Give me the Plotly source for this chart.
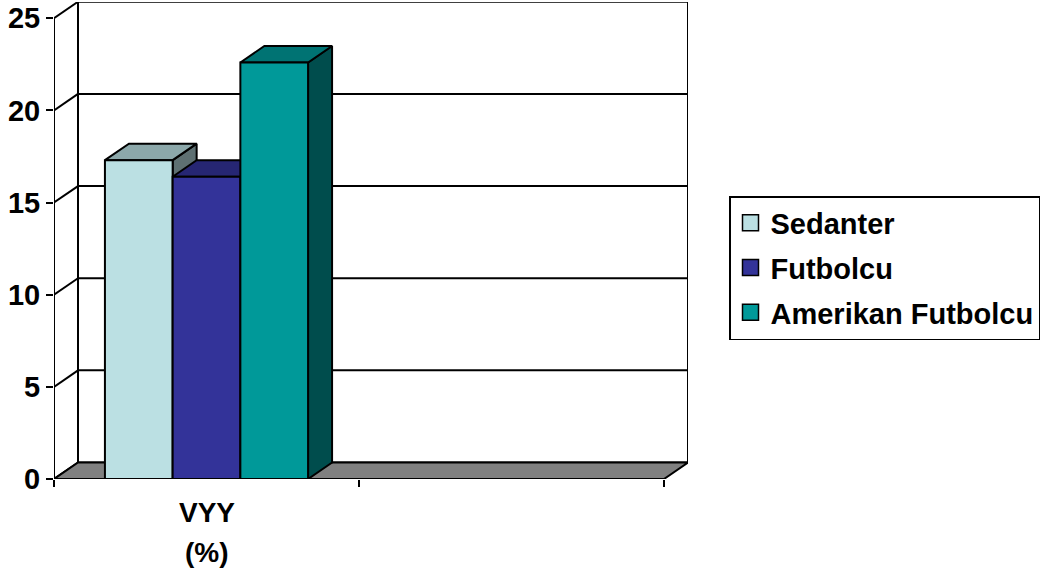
import plotly.graph_objects as go

# ---- data ----
categories = ["VYY", "(%)"]
series_names = ["Sedanter", "Futbolcu", "Amerikan Futbolcu"]
series_values = [17.3, 16.4, 22.6]
y_ticks = [0, 5, 10, 15, 20, 25]

front_colors = ["#BBE0E3", "#333399", "#009999"]
top_colors = ["#8CA8AA", "#262673", "#007373"]
side_colors = ["#5E7072", "#1A1A4D", "#004D4D"]

# ---- geometry (axis units) ----
n_cat = 2
bar_w = 0.222
dx = 0.0787
dy = 0.895
ymax = 25

fig = go.Figure()

def poly(xs, ys, fill, lw=2, lc="black"):
    fig.add_trace(go.Scatter(x=xs, y=ys, mode="lines", fill="toself" if fill else None,
                             fillcolor=fill, line=dict(color=lc, width=lw),
                             hoverinfo="skip", showlegend=False))

# back wall gridlines + left wall diagonals
gx, gy = [], []
for v in y_ticks:
    gx += [dx, n_cat + dx, None]
    gy += [v + dy, v + dy, None]
    gx += [0, dx, None]
    gy += [v, v + dy, None]
# back wall vertical edges
gx += [dx, dx, None, n_cat + dx, n_cat + dx, None]
gy += [dy, ymax + dy, None, dy, ymax + dy, None]
# front y axis line
gx += [0, 0, None]
gy += [0, ymax, None]
fig.add_trace(go.Scatter(x=gx, y=gy, mode="lines", line=dict(color="black", width=2),
                         hoverinfo="skip", showlegend=False))

# floor
poly([0, n_cat, n_cat + dx, dx, 0], [0, 0, dy, dy, 0], "#808080")

# bars
start = 0.5 - bar_w * len(series_values) / 2
for i, v in enumerate(series_values):
    x0 = start + i * bar_w
    x1 = x0 + bar_w
    # side
    poly([x1, x1 + dx, x1 + dx, x1, x1], [0, dy, v + dy, v, 0], side_colors[i])
    # top
    poly([x0, x1, x1 + dx, x0 + dx, x0], [v, v, v + dy, v + dy, v], top_colors[i])
    # front
    poly([x0, x1, x1, x0, x0], [0, 0, v, v, 0], front_colors[i])

# legend entries
for i, name in enumerate(series_names):
    fig.add_trace(go.Scatter(x=[None], y=[None], mode="markers", name=name,
                             legendgroup="g%d" % i,
                             marker=dict(symbol="square", size=16, color=front_colors[i],
                                         line=dict(color="black", width=1.5))))

W, H = 1061, 577
ml, mr, mt, mb = 54, 373, 2, 98
pw = W - ml - mr
ph = H - mt - mb
px_per_cat = 305.0
px_per_unit = 18.43

fig.update_layout(
    width=W, height=H,
    margin=dict(l=ml, r=mr, t=mt, b=mb, pad=0),
    paper_bgcolor="white", plot_bgcolor="white",
    font=dict(family="Liberation Sans, Arial, sans-serif", color="black"),
    showlegend=True,
    legend=dict(x=(729 - ml) / pw, y=(H - mb - 196) / ph, xanchor="left", yanchor="top",
                bordercolor="black", borderwidth=1.5, bgcolor="white",
                font=dict(size=29, weight="bold", family="Liberation Sans, Arial"),
                tracegroupgap=4, traceorder="grouped"),
    xaxis=dict(range=[0, pw / px_per_cat], tickvals=[0, 1, 2], ticktext=["", "", ""],
               ticks="outside", ticklen=7, tickwidth=2, tickcolor="black",
               showgrid=False, zeroline=False, showline=False, fixedrange=True),
    yaxis=dict(range=[0, ph / px_per_unit], tickvals=y_ticks, ticktext=[str(t) for t in y_ticks],
               ticks="outside", ticklen=7, tickwidth=2, tickcolor="black",
               tickfont=dict(size=29, weight="bold", family="Liberation Sans, Arial"),
               showgrid=False, zeroline=False, showline=False, fixedrange=True),
)

fig.add_annotation(x=0.5, y=(H - mb - 512) / ph, xref="x", yref="paper", text=categories[0],
                   showarrow=False, yanchor="middle",
                   font=dict(size=28, weight="bold", family="Liberation Sans, Arial"))
fig.add_annotation(x=0.5, y=(H - mb - 552) / ph, xref="x", yref="paper", text=categories[1],
                   showarrow=False, yanchor="middle",
                   font=dict(size=28, weight="bold", family="Liberation Sans, Arial"))

fig.write_html("out.html")
